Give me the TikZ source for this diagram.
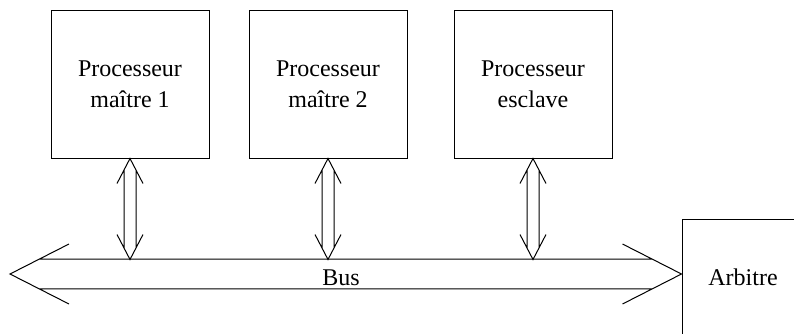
\documentclass[tikz,border=0pt]{standalone}
\usepackage{fontspec}
\setmainfont{Liberation Serif}
\usetikzlibrary{calc, positioning}

\begin{document}
\begin{tikzpicture}[
  x=0.5pt, y=-0.5pt,
  line width=0.5pt,
  box/.style={rectangle, draw, minimum width=79pt, minimum height=74pt, align=center, font=\fontsize{12}{15.3}\selectfont},
  % hollow double-headed arrow: shaft half width, shaft start, head length, head half width
  dblarrow/.style n args={4}{to path={
    let \p1=(\tikztostart), \p2=(\tikztotarget), \n1={atan2(\y2-\y1,\x2-\x1)} in
    ($(\p1)+(\n1:#3)+(\n1+90:#4)$) -- (\p1) -- ($(\p1)+(\n1:#3)+(\n1-90:#4)$)
    ($(\p2)-(\n1:#3)+(\n1+90:#4)$) -- (\p2) -- ($(\p2)-(\n1:#3)+(\n1-90:#4)$)
    ($(\p1)+(\n1:#2)+(\n1+90:#1)$) -- ($(\p2)-(\n1:#2)+(\n1+90:#1)$)
    ($(\p1)+(\n1:#2)+(\n1-90:#1)$) -- ($(\p2)-(\n1:#2)+(\n1-90:#1)$)
  }}
]
\clip (0,0) rectangle (794,333);
\node[box] (m1) at (130,84) {Processeur\\maître 1};
\node[box] (m2) at (328,84) {Processeur\\maître 2};
\node[box] (esc) at (533,84) {Processeur\\esclave};
\node[box, minimum width=61pt, minimum height=58pt] (arb) at (743,277) {Arbitre};
\coordinate (busw) at (10,274);
\coordinate (bustop) at (0,259.5);
% bus
\draw (busw) to[dblarrow={7.4pt}{14.5pt}{29.5pt}{15pt}] (busw -| arb.west);
\node[font=\fontsize{12}{15.3}\selectfont, inner sep=0pt] (bus) at (341,278) {Bus};
% links to the bus
\draw (m1.south) to[dblarrow={3pt}{5.8pt}{12.5pt}{6.5pt}] (m1.south |- bustop);
\draw (m2.south) to[dblarrow={3pt}{5.8pt}{12.5pt}{6.5pt}] (m2.south |- bustop);
\draw (esc.south) to[dblarrow={3pt}{5.8pt}{12.5pt}{6.5pt}] (esc.south |- bustop);
\end{tikzpicture}
\end{document}
